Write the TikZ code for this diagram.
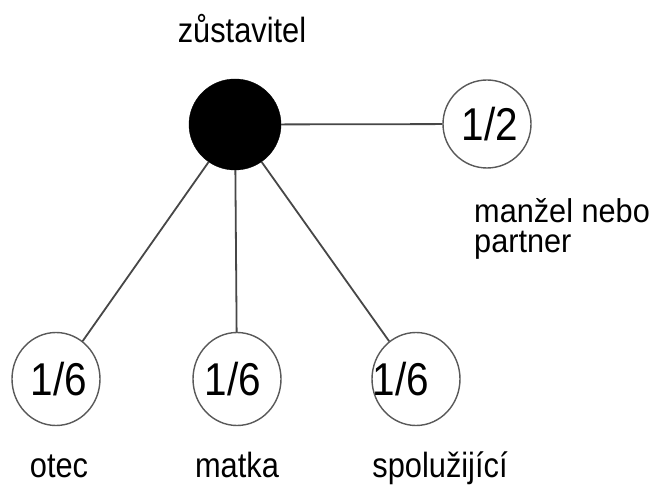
\documentclass[tikz,border=0pt]{standalone}
\usepackage{fontspec}
\setmainfont{Liberation Sans}
\newfontfamily\narrowsans{Liberation Sans}[FakeStretch=0.88]
\newfontfamily\captionsans{Liberation Sans}[FakeStretch=0.93]
\usetikzlibrary{shapes.geometric}
\begin{document}
\begin{tikzpicture}[x=1pt,y=-1pt,
  share/.style={ellipse, draw=black!65, line width=1.4pt, fill=white,
    minimum width=88pt, minimum height=93pt, inner sep=0pt},
  sharetext/.style={font=\narrowsans\fontsize{46}{46}\selectfont, inner sep=0pt},
  link/.style={draw=black!72, line width=1.8pt},
  caption/.style={font=\narrowsans\fontsize{35}{29}\selectfont, inner sep=0pt},
  twoline/.style={font=\captionsans\fontsize{33}{30}\selectfont, inner sep=0pt, align=left}]
\useasboundingbox (0,0) rectangle (663,486);
% deceased and heirs
\node[ellipse, fill=black, draw=black, minimum width=92pt, minimum height=91pt] (z) at (235,124.5) {};
\node[share, minimum height=88pt] (p) at (487,124) {};
\node[share] (o) at (56,379) {};
\node[share] (m) at (237,379) {};
\node[share] (s) at (416,379) {};
% shares
\node[sharetext] (pt) at (490,124) {1/2};
\node[sharetext] (ot) at (59,379) {1/6};
\node[sharetext] (mt) at (233,379) {1/6};
\node[sharetext] (st) at (401,379) {1/6};
% connections
\draw[link] (z) -- (p);
\draw[link] (z) -- (o);
\draw[link] (z) -- (m);
\draw[link] (z) -- (s);
% captions
\node[caption, anchor=base] (zl) at (242,43) {zůstavitel};
\node[twoline, anchor=base west] (pl) at (474,252) {manžel nebo\\partner};
\node[caption, anchor=base] (ol) at (59,477) {otec};
\node[caption, anchor=base] (ml) at (237,477) {matka};
\node[caption, anchor=base] (sl) at (440,477) {spolužijící};
\end{tikzpicture}
\end{document}
